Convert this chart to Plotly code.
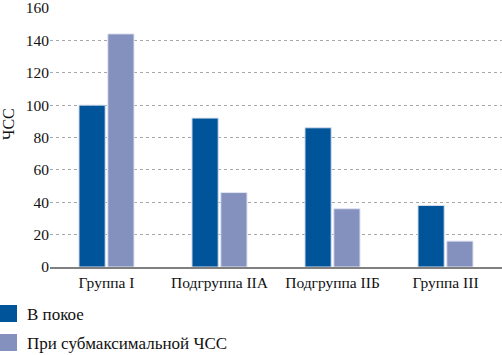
import plotly.graph_objects as go

categories = ["Группа I", "Подгруппа IIA", "Подгруппа IIБ", "Группа III"]
rest = [100, 92, 86, 38]
submax = [144, 46, 36, 16]
series_names = ["В покое", "При субмаксимальной ЧСС"]
series_colors = ["#00549A", "#8491BE"]
y_ticks = [0, 20, 40, 60, 80, 100, 120, 140, 160]

W, H = 502, 355
ML, MR, MT, MB = 50, 0, 8, 88
PW, PH = W - ML - MR, H - MT - MB

def px_x(px):
    return (px - ML) / PW

def px_y(py):
    return (H - MB - py) / PH

fig = go.Figure()
fig.add_trace(go.Bar(x=categories, y=rest, name=series_names[0],
                     marker=dict(color=series_colors[0], line=dict(color="#D6DEEC", width=1))))
fig.add_trace(go.Bar(x=categories, y=submax, name=series_names[1],
                     marker=dict(color=series_colors[1], line=dict(color="#E0E4F0", width=1))))

font_family = "Liberation Serif, Times New Roman, serif"

shapes = []
annotations = [dict(text="ЧСС", xref="paper", yref="paper", x=px_x(8), y=px_y(124),
                    textangle=-90, showarrow=False, font=dict(size=16, family=font_family, color="#111"),
                    xanchor="center", yanchor="middle")]
legend_rows = [314, 343]
for name, color, cy in zip(series_names, series_colors, legend_rows):
    shapes.append(dict(type="rect", xref="paper", yref="paper",
                       x0=px_x(0), x1=px_x(17), y0=px_y(cy - 9), y1=px_y(cy + 8),
                       fillcolor=color, line=dict(width=0)))
    annotations.append(dict(text=name, xref="paper", yref="paper", x=px_x(25), y=px_y(cy),
                            xanchor="left", yanchor="middle", showarrow=False,
                            font=dict(size=17, family=font_family, color="#111")))

fig.update_layout(
    width=W, height=H,
    margin=dict(l=ML, r=MR, t=MT, b=MB, autoexpand=False),
    paper_bgcolor="white", plot_bgcolor="white",
    barmode="group", bargap=0.49, bargroupgap=0.09,
    font=dict(family=font_family, size=15, color="#111"),
    showlegend=False,
    shapes=shapes,
    annotations=annotations,
)
fig.update_yaxes(range=[0, 160], tickvals=y_ticks, showgrid=True, gridcolor="#A8A8A8",
                 griddash="dot", gridwidth=1, zeroline=False, showline=False, ticks="",
                 ticklabeloverflow="allow",
                 tickfont=dict(size=15.5, family=font_family, color="#111"), automargin=False)
fig.update_xaxes(showline=True, linecolor="#808080", linewidth=2, ticks="", tickangle=0,
                 tickfont=dict(size=15.5, family=font_family, color="#111"), automargin=False)

fig.write_html("out.html")
